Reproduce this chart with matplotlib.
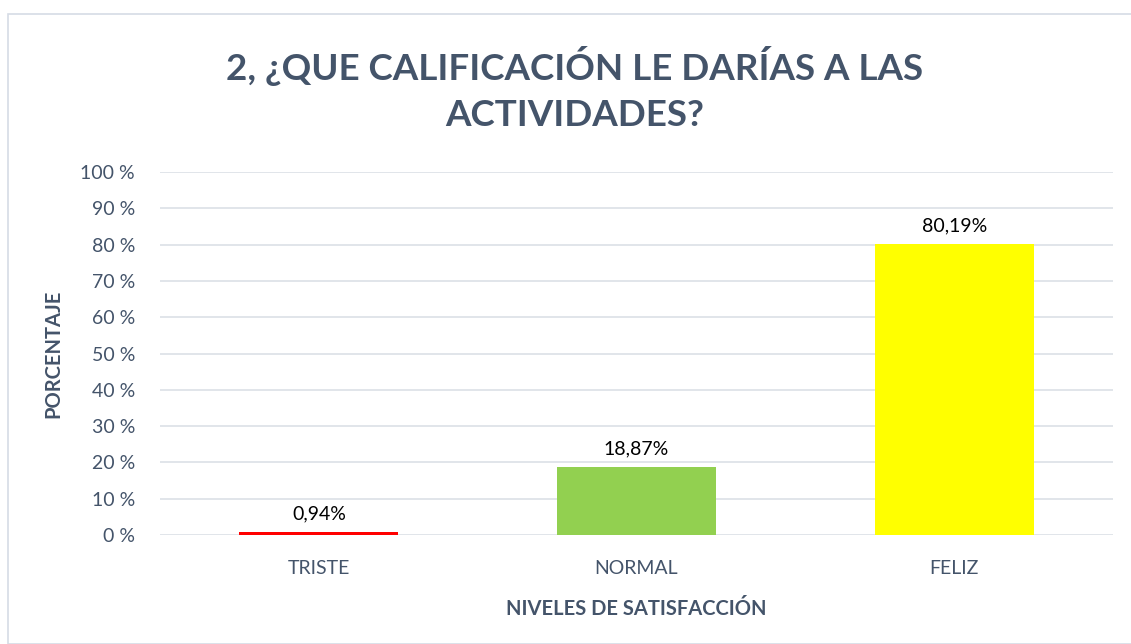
import matplotlib.pyplot as plt
from matplotlib.patches import Rectangle

plt.rcParams['font.family'] = ['Lato', 'DejaVu Sans']

categorias = ["TRISTE", "NORMAL", "FELIZ"]
porcentajes = [0.94, 18.87, 80.19]
etiquetas = ["0,94%", "18,87%", "80,19%"]
colores = ["#FF0000", "#92D050", "#FFFF00"]
ticks = list(range(0, 101, 10))

texto = "#44546A"

fig = plt.figure(figsize=(11.31, 6.44), dpi=100)
fig.patches.append(Rectangle((8 / 1131, 0), 1.2, (644 - 14) / 644, transform=fig.transFigure,
                             fill=False, edgecolor="#D6DCE5", linewidth=1.2))
ax = fig.add_axes([160 / 1131, (644 - 535) / 644, 953 / 1131, 363 / 644])

x = range(len(categorias))
ax.bar(x, porcentajes, width=0.5, color=colores, zorder=3)
for xi, v, t in zip(x, porcentajes, etiquetas):
    ax.text(xi, v + 2.5, t, ha="center", va="bottom", fontsize=14, color="black")

ax.set_xlim(-0.5, 2.5)
ax.set_ylim(0, 100)
ax.set_yticks(ticks)
ax.set_yticklabels([f"{t} %" for t in ticks])
ax.set_xticks(list(x))
ax.set_xticklabels(categorias)
ax.tick_params(axis="both", length=0, labelsize=14, colors=texto)
ax.tick_params(axis="y", pad=18)
ax.tick_params(axis="x", pad=18)
ax.grid(axis="y", color="#DCE0E6", linewidth=1.2, zorder=0)
for s in ax.spines.values():
    s.set_visible(False)

ax.set_xlabel("NIVELES DE SATISFACCIÓN", fontsize=14.5, fontweight="bold", color=texto, labelpad=16)
ax.set_ylabel("PORCENTAJE", fontsize=14.5, fontweight="bold", color=texto, labelpad=12)

fig.text(575 / 1131, 1 - 89 / 644, "2, ¿QUE CALIFICACIÓN LE DARÍAS A LAS\nACTIVIDADES?",
         ha="center", va="center", fontsize=26.5, fontweight="bold", color=texto, linespacing=1.5)

fig.savefig("out.png", dpi=100)
